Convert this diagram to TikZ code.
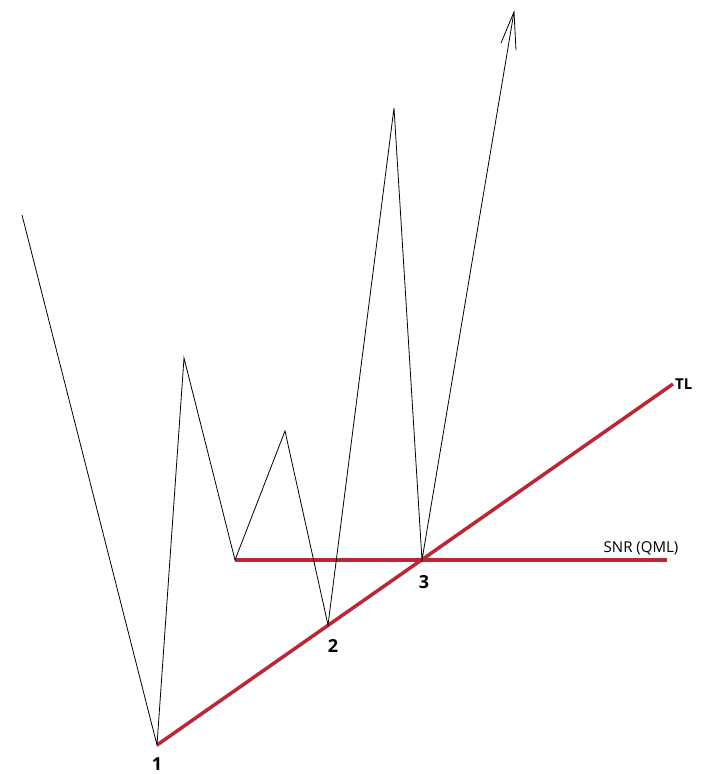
\documentclass[tikz,border=0pt]{standalone}
\usepackage{fontspec}
\setmainfont{Open Sans}
\begin{document}
\begin{tikzpicture}[x=1pt,y=-1pt,
  price/.style={draw=black,line width=0.8pt,line join=miter},
  redline/.style={draw={rgb,255:red,185;green,40;blue,55},line width=3.5pt},
  numlabel/.style={font=\bfseries\fontsize{18}{18}\selectfont,inner sep=0pt},
  txtlabel/.style={font=\fontsize{15}{15}\selectfont,inner sep=0pt}]
\useasboundingbox[fill=white] (0,0) rectangle (721,774);
\coordinate (s) at (22,215);
\coordinate (p1) at (157,745);
\coordinate (h1) at (184,358);
\coordinate (l1) at (235,560);
\coordinate (h2) at (285,431);
\coordinate (p2) at (328,625);
\coordinate (h3) at (394,108);
\coordinate (p3) at (422,560);
\coordinate (tip) at (514,12);
\coordinate (bl) at (501,43);
\coordinate (br) at (516,50);
\coordinate (tlend) at (673,384);
\coordinate (snrend) at (667,560);
\draw[redline] (l1) -- (snrend);
\draw[redline] (p1) -- (tlend);
\draw[price] (s) -- (p1) -- (h1) -- (l1) -- (h2) -- (p2) -- (h3) -- (p3) -- (tip);
\draw[price] (bl) -- (tip) -- (br);
\node[numlabel] (n1) at (157,764) {1};
\node[numlabel] (n2) at (333,646) {2};
\node[numlabel] (n3) at (424,582) {3};
\node[txtlabel,font=\bfseries\fontsize{15}{15}\selectfont,anchor=west] (tl) at (675,384) {TL};
\node[txtlabel] (snr) at (641,548) {SNR (QML)};
\end{tikzpicture}
\end{document}
